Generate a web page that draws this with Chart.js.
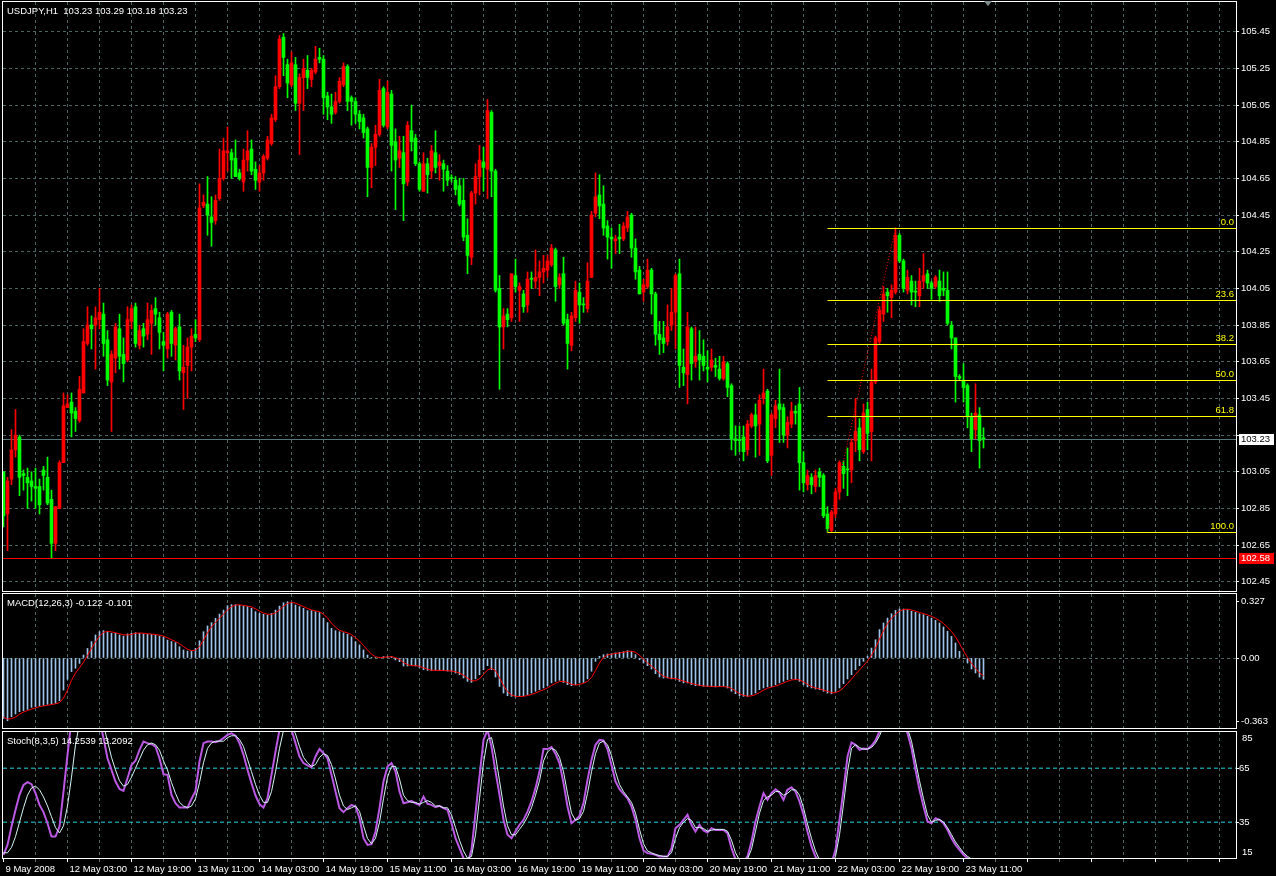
<!DOCTYPE html>
<html>
<head>
<meta charset="utf-8">
<title>USDJPY,H1</title>
<script src="https://cdn.jsdelivr.net/npm/chart.js@4.4.1/dist/chart.umd.min.js"></script>
<style>
  html, body { margin: 0; padding: 0; background: #000; }
  #wrap { position: relative; width: 1276px; height: 876px; background: #000; overflow: hidden; }
  #wrap canvas { position: absolute; left: 0; }
</style>
</head>
<body>
<div id="wrap">
  <canvas id="priceChart" width="1276" height="593" style="top:0px"></canvas>
  <canvas id="macdChart" width="1276" height="138" style="top:592px"></canvas>
  <canvas id="stochChart" width="1276" height="146" style="top:730px"></canvas>
</div>
<script>
// hourly bars, 9 May 2008 .. 23 May 2008 15:00
var open = [
  103.05,102.82,103.01,103.17,103.24,103.04,103.02,103.00,102.97,102.97,
  103.06,103.02,102.90,102.66,102.85,103.10,103.40,103.43,103.38,103.33,
  103.48,103.75,103.85,103.85,103.88,103.91,103.77,103.54,103.67,103.83,
  103.69,103.66,103.87,103.95,103.74,103.83,103.80,103.86,103.94,103.89,
  103.76,103.72,103.92,103.74,103.84,103.59,103.63,103.73,103.80,103.77,
  104.50,104.51,104.44,104.42,104.54,104.65,104.79,104.79,104.76,104.68,
  104.63,104.75,104.81,104.70,104.63,104.68,104.76,104.84,104.97,105.15,
  105.42,105.27,105.16,105.27,105.06,105.20,105.24,105.19,105.23,105.31,
  105.30,105.10,105.04,105.01,105.07,105.16,105.26,105.09,105.07,105.00,
  104.98,104.92,104.71,104.82,104.89,105.14,104.93,105.11,104.85,104.76,
  104.79,104.63,104.91,104.87,104.73,104.58,104.73,104.69,104.79,104.72,
  104.73,104.69,104.65,104.64,104.61,104.53,104.34,104.22,104.57,104.66,
  104.74,104.70,105.01,104.69,104.05,103.84,103.91,103.89,104.12,104.04,
  104.02,103.96,104.10,104.09,104.11,104.14,104.15,104.18,104.26,104.07,
  104.13,103.88,103.74,103.89,104.03,103.96,103.94,104.11,104.46,104.56,
  104.51,104.39,104.33,104.31,104.33,104.32,104.38,104.45,104.27,104.15,
  104.03,104.06,104.15,104.02,103.80,103.78,103.76,103.85,103.92,104.13,
  103.62,103.58,103.83,103.65,103.69,103.68,103.62,103.62,103.63,103.61,
  103.56,103.64,103.52,103.23,103.22,103.24,103.17,103.30,103.36,103.31,
  103.45,103.49,103.14,103.34,103.42,103.40,103.25,103.31,103.38,103.42,
  103.10,102.98,103.02,102.97,103.05,103.03,102.82,102.73,102.82,102.94,
  103.08,103.06,103.06,103.22,103.29,103.16,103.39,103.27,103.54,103.76,
  103.91,104.03,104.00,104.03,104.34,104.20,104.04,104.09,104.03,104.01,
  104.09,104.13,104.08,104.06,104.09,104.05,104.04,103.85,103.78,103.57,
  103.55,103.52,103.35,103.28,103.36,103.23
];
var high = [
  103.05,103.02,103.28,103.39,103.25,103.06,103.07,103.05,103.07,103.01,
  103.08,103.13,102.95,102.86,103.11,103.48,103.47,103.48,103.40,103.57,
  103.83,103.95,103.90,103.95,104.05,103.97,103.82,103.71,103.86,103.91,
  103.78,103.95,103.96,103.97,103.85,103.86,103.97,103.96,104.00,103.92,
  103.81,103.92,103.93,103.84,103.91,103.74,103.78,103.83,103.88,104.62,
  104.56,104.66,104.55,104.56,104.81,104.87,104.93,104.81,104.86,104.70,
  104.81,104.91,104.86,104.74,104.72,104.78,104.88,105.00,105.21,105.43,
  105.44,105.30,105.34,105.31,105.22,105.30,105.32,105.25,105.37,105.36,
  105.32,105.12,105.11,105.12,105.20,105.28,105.27,105.10,105.09,105.02,
  105.00,104.93,104.84,104.94,105.19,105.15,105.18,105.13,104.92,104.88,
  104.88,104.96,105.05,104.89,104.74,104.79,104.76,104.83,104.91,104.78,
  104.75,104.72,104.67,104.66,104.65,104.65,104.43,104.58,104.73,104.83,
  104.82,105.08,105.02,104.70,104.12,103.94,103.94,104.13,104.21,104.08,
  104.04,104.14,104.14,104.26,104.20,104.23,104.23,104.29,104.27,104.13,
  104.22,103.91,103.92,104.09,104.08,104.00,104.19,104.47,104.68,104.67,
  104.61,104.42,104.38,104.34,104.40,104.41,104.47,104.46,104.32,104.17,
  104.10,104.21,104.16,104.03,103.87,103.87,103.96,104.05,104.13,104.21,
  103.72,103.92,103.84,103.84,103.82,103.77,103.71,103.72,103.67,103.68,
  103.68,103.65,103.53,103.30,103.30,103.30,103.33,103.37,103.42,103.47,
  103.61,103.50,103.37,103.44,103.61,103.42,103.35,103.43,103.41,103.51,
  103.16,103.06,103.04,103.06,103.07,103.04,102.86,102.84,102.96,103.11,
  103.11,103.18,103.23,103.45,103.34,103.42,103.43,103.61,103.79,103.95,
  104.06,104.05,104.07,104.38,104.35,104.21,104.15,104.12,104.09,104.16,
  104.24,104.15,104.09,104.12,104.15,104.14,104.14,103.87,103.78,103.58,
  103.64,103.53,103.37,103.53,103.40,103.29
];
var low = [
  102.75,102.62,102.98,103.13,102.92,102.95,102.85,102.89,102.85,102.82,
  102.95,102.87,102.58,102.62,102.85,103.10,103.40,103.24,103.27,103.32,
  103.48,103.74,103.72,103.61,103.83,103.68,103.52,103.27,103.59,103.61,
  103.54,103.65,103.83,103.73,103.72,103.73,103.77,103.69,103.85,103.72,
  103.60,103.67,103.68,103.66,103.55,103.39,103.45,103.60,103.76,103.76,
  104.49,104.34,104.28,104.40,104.53,104.64,104.69,104.65,104.66,104.64,
  104.58,104.69,104.67,104.59,104.58,104.64,104.75,104.83,104.96,105.14,
  105.21,105.09,105.15,105.02,104.78,105.02,105.14,105.15,105.22,105.28,
  105.00,104.97,104.95,105.00,105.06,105.15,105.02,104.94,104.95,104.92,
  104.87,104.55,104.60,104.72,104.88,104.93,104.92,104.69,104.48,104.71,
  104.42,104.61,104.80,104.72,104.58,104.58,104.57,104.65,104.68,104.64,
  104.58,104.61,104.63,104.56,104.50,104.31,104.13,104.18,104.51,104.56,
  104.58,104.54,104.55,104.03,103.50,103.72,103.84,103.87,104.03,103.87,
  103.92,103.92,104.05,104.05,104.01,104.08,104.11,104.17,103.98,104.05,
  103.85,103.61,103.71,103.87,103.86,103.92,103.92,104.11,104.44,104.43,
  104.34,104.21,104.16,104.24,104.24,104.31,104.36,104.22,104.10,104.02,
  103.98,104.05,103.91,103.74,103.69,103.70,103.74,103.82,103.72,103.51,
  103.52,103.42,103.55,103.62,103.55,103.60,103.54,103.60,103.57,103.55,
  103.55,103.46,103.17,103.14,103.16,103.11,103.14,103.29,103.13,103.14,
  103.42,103.10,103.03,103.29,103.21,103.21,103.18,103.29,103.31,102.95,
  102.94,102.95,102.93,102.94,102.97,102.80,102.72,102.72,102.80,102.90,
  102.96,102.92,102.99,103.16,103.11,103.15,103.17,103.11,103.53,103.75,
  103.87,103.92,103.89,104.02,104.19,104.03,104.02,103.96,103.95,103.95,
  104.05,104.05,103.99,104.05,103.98,104.01,103.85,103.72,103.43,103.55,
  103.43,103.29,103.16,103.23,103.07,103.18
];
var close = [
  102.81,103.00,103.17,103.25,103.02,103.03,102.99,102.97,102.96,102.87,
  103.03,102.88,102.66,102.86,103.10,103.41,103.42,103.37,103.34,103.50,
  103.76,103.85,103.83,103.89,103.92,103.75,103.55,103.69,103.84,103.68,
  103.64,103.88,103.94,103.75,103.82,103.79,103.88,103.93,103.91,103.81,
  103.74,103.91,103.75,103.83,103.60,103.62,103.73,103.79,103.78,104.49,
  104.52,104.45,104.41,104.53,104.65,104.80,104.80,104.75,104.66,104.65,
  104.75,104.80,104.69,104.64,104.68,104.77,104.86,104.98,105.15,105.41,
  105.31,105.17,105.28,105.06,105.20,105.25,105.20,105.24,105.30,105.30,
  105.09,105.04,105.00,105.07,105.18,105.26,105.07,105.07,105.00,104.96,
  104.90,104.71,104.82,104.89,105.13,104.94,105.12,104.83,104.75,104.80,
  104.62,104.94,104.85,104.73,104.59,104.73,104.67,104.80,104.71,104.74,
  104.70,104.64,104.65,104.59,104.51,104.33,104.23,104.57,104.66,104.75,
  104.71,105.02,104.69,104.04,103.84,103.90,103.88,104.13,104.06,104.06,
  103.95,104.10,104.10,104.11,104.14,104.16,104.20,104.27,104.06,104.11,
  103.86,103.75,103.90,104.04,103.96,103.96,104.09,104.45,104.55,104.50,
  104.38,104.33,104.32,104.32,104.32,104.39,104.44,104.27,104.14,104.02,
  104.07,104.15,104.02,103.80,103.77,103.75,103.84,103.92,104.12,103.63,
  103.59,103.84,103.64,103.68,103.66,103.63,103.61,103.66,103.62,103.56,
  103.65,103.51,103.23,103.22,103.22,103.16,103.31,103.36,103.30,103.44,
  103.48,103.11,103.36,103.41,103.39,103.25,103.32,103.38,103.37,103.10,
  102.99,103.03,102.98,103.03,103.02,102.81,102.74,102.83,102.94,103.10,
  103.04,103.06,103.21,103.27,103.17,103.37,103.26,103.54,103.78,103.93,
  104.02,104.01,104.04,104.34,104.20,104.05,104.11,104.03,104.03,104.09,
  104.12,104.08,104.05,104.11,104.01,104.04,103.86,103.78,103.57,103.56,
  103.51,103.35,103.23,103.37,103.22,103.23
];

var macdMain = [
  -0.346,-0.360,-0.337,-0.321,-0.308,-0.302,-0.295,-0.283,-0.279,-0.275,
  -0.272,-0.266,-0.264,-0.260,-0.245,-0.184,-0.122,-0.078,-0.059,-0.031,
  0.017,0.055,0.094,0.132,0.151,0.157,0.151,0.142,0.142,0.132,
  0.126,0.138,0.142,0.145,0.142,0.138,0.136,0.136,0.132,0.126,
  0.119,0.103,0.094,0.088,0.065,0.046,0.040,0.040,0.055,0.099,
  0.151,0.184,0.203,0.228,0.252,0.275,0.300,0.306,0.306,0.302,
  0.298,0.295,0.285,0.266,0.256,0.251,0.247,0.256,0.275,0.298,
  0.317,0.323,0.317,0.304,0.295,0.285,0.272,0.272,0.266,0.260,
  0.228,0.203,0.170,0.157,0.151,0.145,0.136,0.122,0.094,0.075,
  0.046,0.017,0.002,0.002,0.002,0.008,0.008,0.008,-0.011,-0.021,
  -0.046,-0.046,-0.040,-0.046,-0.054,-0.067,-0.071,-0.071,-0.071,-0.071,
  -0.073,-0.075,-0.076,-0.086,-0.096,-0.115,-0.134,-0.140,-0.120,-0.096,
  -0.067,-0.044,-0.067,-0.109,-0.163,-0.201,-0.216,-0.220,-0.224,-0.220,
  -0.216,-0.210,-0.201,-0.191,-0.182,-0.172,-0.159,-0.143,-0.134,-0.128,
  -0.140,-0.153,-0.159,-0.153,-0.143,-0.140,-0.120,-0.076,-0.019,0.010,
  0.019,0.023,0.025,0.029,0.033,0.036,0.042,0.038,0.019,-0.010,
  -0.029,-0.044,-0.063,-0.090,-0.109,-0.115,-0.115,-0.120,-0.120,-0.134,
  -0.143,-0.143,-0.153,-0.159,-0.159,-0.163,-0.163,-0.163,-0.166,-0.163,
  -0.163,-0.172,-0.191,-0.205,-0.216,-0.220,-0.220,-0.210,-0.201,-0.182,
  -0.172,-0.166,-0.163,-0.153,-0.143,-0.134,-0.124,-0.120,-0.124,-0.134,
  -0.153,-0.166,-0.172,-0.178,-0.182,-0.191,-0.201,-0.205,-0.191,-0.172,
  -0.147,-0.120,-0.096,-0.067,-0.044,-0.019,0.010,0.057,0.105,0.163,
  0.201,0.229,0.254,0.273,0.281,0.281,0.277,0.268,0.262,0.254,
  0.249,0.239,0.229,0.216,0.201,0.178,0.153,0.124,0.086,0.038,
  -0.004,-0.029,-0.063,-0.086,-0.109,-0.122
];
var macdSignal = [
  -0.340,-0.350,-0.348,-0.339,-0.322,-0.310,-0.302,-0.293,-0.286,-0.279,
  -0.275,-0.271,-0.267,-0.263,-0.256,-0.230,-0.184,-0.128,-0.086,-0.056,
  -0.024,0.014,0.055,0.094,0.126,0.147,0.153,0.150,0.145,0.139,
  0.133,0.132,0.135,0.142,0.143,0.142,0.139,0.137,0.135,0.131,
  0.126,0.116,0.105,0.095,0.082,0.066,0.050,0.042,0.045,0.065,
  0.102,0.145,0.179,0.205,0.228,0.252,0.276,0.294,0.304,0.305,
  0.302,0.298,0.293,0.282,0.269,0.258,0.251,0.251,0.259,0.276,
  0.297,0.313,0.319,0.315,0.305,0.295,0.284,0.276,0.270,0.266,
  0.251,0.230,0.200,0.177,0.159,0.151,0.144,0.134,0.117,0.097,
  0.072,0.046,0.022,0.007,0.002,0.004,0.006,0.008,0.002,-0.008,
  -0.026,-0.038,-0.044,-0.044,-0.047,-0.056,-0.064,-0.070,-0.071,-0.071,
  -0.072,-0.073,-0.075,-0.079,-0.086,-0.099,-0.115,-0.130,-0.131,-0.119,
  -0.094,-0.069,-0.059,-0.073,-0.113,-0.158,-0.193,-0.212,-0.220,-0.221,
  -0.220,-0.215,-0.209,-0.201,-0.191,-0.182,-0.171,-0.158,-0.145,-0.135,
  -0.134,-0.140,-0.151,-0.155,-0.152,-0.145,-0.134,-0.112,-0.072,-0.028,
  0.003,0.017,0.022,0.026,0.029,0.033,0.037,0.039,0.033,0.016,
  -0.007,-0.028,-0.046,-0.066,-0.087,-0.105,-0.113,-0.117,-0.118,-0.125,
  -0.132,-0.140,-0.146,-0.152,-0.157,-0.160,-0.162,-0.163,-0.164,-0.164,
  -0.164,-0.166,-0.175,-0.189,-0.204,-0.214,-0.219,-0.217,-0.210,-0.198,
  -0.185,-0.173,-0.167,-0.161,-0.153,-0.143,-0.134,-0.126,-0.123,-0.126,
  -0.137,-0.151,-0.164,-0.172,-0.177,-0.184,-0.191,-0.199,-0.199,-0.189,
  -0.170,-0.146,-0.121,-0.094,-0.069,-0.043,-0.018,0.016,0.057,0.108,
  0.156,0.198,0.228,0.252,0.269,0.278,0.280,0.275,0.269,0.261,
  0.255,0.247,0.239,0.228,0.215,0.198,0.177,0.152,0.121,0.083,
  0.041,0.003,-0.031,-0.059,-0.086,-0.101
];

var stochMain = [
  16.8,22.4,32.6,41.8,50.2,55.7,57.2,56.1,51.1,44.6,
  40.6,34.4,27.0,27.0,32.6,52.0,72.4,92,97,98,
  99,97,95,96,92,81.7,70.5,64.1,57.6,53.5,
  52.4,59.4,66.8,69.1,75.2,79.8,78.9,78.3,77.0,70.5,
  61.6,61.3,50.2,45.5,43.1,43.1,43.1,47.9,52.4,68.7,
  78.9,79.8,79.8,79.4,80.2,81.7,83.5,84.4,83.1,78.9,
  72.4,64.1,56.7,49.8,45.0,43.1,48.3,61.3,74.2,86.3,
  92,95,86.3,78.9,71.5,67.8,66.5,65.4,71.5,75.7,
  73.3,70.5,61.3,52.0,42.8,40.6,42.8,44.6,43.7,37.2,
  26.1,22.4,22.8,29.8,42.8,57.6,65.9,67.8,63.1,52.0,
  45.5,46.1,46.8,45.5,44.6,49.2,45.2,44.6,43.3,44.1,
  42.8,41.8,34.4,26.1,20.6,15.0,12.2,19.6,40.0,60.4,
  80.7,86.3,77.0,63.1,50.2,36.3,28.0,26.1,29.8,33.5,
  36.3,40.9,46.5,53.9,63.1,75.6,75.6,76.7,73.0,67.8,
  56.7,43.7,34.4,36.3,38.5,45.6,58.5,69.6,78.0,80.7,
  80.4,75.6,66.8,57.6,53.3,50.7,48.3,43.7,36.3,26.1,
  19.2,17.8,17.4,16.9,15.9,15.9,15.9,20.6,31.7,33.5,
  36.3,39.1,33.5,29.8,33.5,30.4,29.3,31.7,30.7,30.7,
  30.7,28.9,20.6,14.4,12.2,13.1,15.9,24.2,35.4,43.7,
  51.1,47.4,51.1,53.3,51.5,47.4,53.0,54.4,52.0,46.5,
  39.1,29.8,21.5,15.9,12.2,10.4,10.4,12.2,19.6,36.3,
  53.0,71.5,79.3,78.0,75.2,75.9,75.6,77.4,80.4,85.4,
  90,94,95,94,93,90,84.4,76.1,64.1,53.0,
  43.7,35.4,34.4,37.2,36.3,34.4,30.7,26.1,22.4,19.6,
  16.9,15.0,13.7,13.1,13.7,14.2539
];
var stochSignal = [
  18,18,21,27,35,43,50,54,55,53,
  49,44,38,32,29,33,44,60,78,90,
  96,97,96,95,94,89,80,71,64,58,
  55,56,60,65,70,75,78,79,78,75,
  69,64,57,51,46,44,43,44,48,57,
  68,76,79,80,80,80,82,83,83,81,
  77,70,63,56,50,46,46,52,63,76,
  86,90,89,84,77,71,68,66,67,71,
  73,72,67,59,50,44,42,43,44,41,
  33,26,23,26,35,48,60,66,66,59,
  50,47,46,46,45,46,47,46,44,44,
  43,43,39,32,25,19,15,16,28,48,
  68,81,82,72,58,44,33,28,28,31,
  34,38,43,50,58,69,74,76,75,71,
  63,51,40,36,37,41,51,63,73,79,
  80,78,72,63,56,52,49,46,40,31,
  23,19,18,17,16.5,16,16,18,26,32,
  35,37,36,32,32,31.5,30,30.5,31,31,
  31,30,25,18,14,13,14.5,20,30,40,
  47,49,50,52,52,50,51,53,53,50,
  43,34,26,19,14,12,11,11.5,16,28,
  45,63,76,78,76.5,75.5,75.7,76.5,79,83,
  88,92,94,94,93,91,87,80,69,58,
  48,39,35,36,36.5,35,32,28,24,21,
  18,16,14.5,13.6,13.4,13.2092
];

var timeLabels = ['9 May 2008', '12 May 03:00', '12 May 19:00', '13 May 11:00', '14 May 03:00',
  '14 May 19:00', '15 May 11:00', '16 May 03:00', '16 May 19:00', '19 May 11:00', '20 May 03:00',
  '20 May 19:00', '21 May 11:00', '22 May 03:00', '22 May 19:00', '23 May 11:00'];
var priceTicks = [102.45, 102.65, 102.85, 103.05, 103.25, 103.45, 103.65, 103.85,
  104.05, 104.25, 104.45, 104.65, 104.85, 105.05, 105.25, 105.45];
var macdTicks = [-0.363, 0, 0.327];
var stochLevels = [35, 65];
var stochEdges = [15, 85];
var fibLevels = [0, 23.6, 38.2, 50, 61.8, 100];
var fibHigh = 104.38, fibLow = 102.72;
var fibFromBar = 206, fibToBar = 223;
var redLevel = 102.58;

// ---- look ----
var UP = '#ff0000', DOWN = '#00ff00', GRID = '#4b6563';
var X_MIN = -0.125, X_MAX = 308.125;
var last = close.length - 1;
var bars = close.map(function (c, i) { return i; });
var candleColor = bars.map(function (i) { return close[i] > open[i] ? UP : DOWN; });
var gridBars = [];
for (var b = 0; b <= 304; b += 8) gridBars.push(b);
var FONT = '9.5px "Liberation Sans", Arial, sans-serif';

Chart.defaults.font.family = '"Liberation Sans", Arial, sans-serif';
Chart.defaults.font.size = 9.5;
Chart.defaults.color = '#ffffff';
Chart.defaults.animation = false;

// keep the plot area exactly where the layout padding puts it
function noScalePadding(s) {
  s.paddingTop = 0; s.paddingBottom = 0; s.paddingLeft = 0; s.paddingRight = 0;
}

function xAxis(withLabels) {
  return {
    type: 'linear', min: X_MIN, max: X_MAX, bounds: 'data', offset: false,
    grid: {
      offset: false, drawTicks: withLabels, tickLength: 4, lineWidth: 1,
      color: function (c) { return (c.tick && c.tick.value === 0) ? 'rgba(0,0,0,0)' : GRID; },
      tickColor: function (c) { return (c.tick && c.tick.value % 16 === 0) ? '#ffffff' : '#6a6a6a'; }
    },
    border: { display: false, dash: [3, 3] },
    afterBuildTicks: function (s) { s.ticks = gridBars.map(function (v) { return { value: v }; }); },
    ticks: {
      display: withLabels, autoSkip: false, maxRotation: 0, minRotation: 0,
      align: 'start', padding: 2, labelOffset: 2, color: '#ffffff',
      callback: function (v) { return (v % 16 === 0 && timeLabels[v / 16]) ? timeLabels[v / 16] : ''; }
    },
    afterFit: function (s) { s.height = withLabels ? 18 : 0; noScalePadding(s); }
  };
}

var framePlugin = {
  id: 'frame',
  afterDraw: function (chart) {
    var a = chart.chartArea, ctx = chart.ctx;
    ctx.save();
    ctx.strokeStyle = '#ffffff';
    ctx.lineWidth = 1;
    ctx.strokeRect(a.left - 0.5, a.top - 0.5, a.right - a.left + 1, a.bottom - a.top + 1);
    ctx.restore();
  }
};

function panelTitle(chart, text) {
  var ctx = chart.ctx, a = chart.chartArea;
  ctx.save();
  ctx.font = FONT;
  ctx.fillStyle = '#ffffff';
  ctx.textAlign = 'left';
  ctx.textBaseline = 'middle';
  ctx.fillText(text, a.left + 4, a.top + 9);
  ctx.restore();
}

// crisp 1px horizontal line at a price, placed through the y scale
function hLine(chart, value, fromX, color) {
  var ctx = chart.ctx, a = chart.chartArea;
  var y = Math.round(chart.scales.y.getPixelForValue(value)) + 0.5;
  var x0 = fromX === null ? a.left : chart.scales.x.getPixelForValue(fromX);
  ctx.save();
  ctx.strokeStyle = color;
  ctx.lineWidth = 1;
  ctx.beginPath();
  ctx.moveTo(x0, y);
  ctx.lineTo(a.right, y);
  ctx.stroke();
  ctx.restore();
}

// ---- price panel ----
var fibPrice = function (p) { return fibHigh - p / 100 * (fibHigh - fibLow); };
var priceSets = [
  { type: 'bar', data: bars.map(function (i) { return { x: i, y: [low[i], high[i]] }; }),
    backgroundColor: candleColor, barThickness: 1, grouped: false, order: 3 },
  { type: 'bar', data: bars.map(function (i) { return { x: i, y: [open[i], close[i]] }; }),
    backgroundColor: candleColor, barThickness: 3, grouped: false, minBarLength: 1, order: 2 },
  { type: 'line', data: [{ x: fibFromBar, y: fibLow }, { x: fibToBar, y: fibHigh }],
    borderColor: '#ff0000', borderWidth: 1, borderDash: [1, 2], pointRadius: 0, order: 0 }
];

new Chart(document.getElementById('priceChart'), {
  type: 'bar',
  data: { datasets: priceSets },
  options: {
    responsive: false, maintainAspectRatio: false, animation: false, events: [],
    layout: { padding: { left: 3, right: 0, top: 2, bottom: 2 } },
    plugins: { legend: { display: false }, tooltip: { enabled: false } },
    scales: {
      x: xAxis(false),
      y: {
        type: 'linear', position: 'right', min: 102.400, max: 105.612, bounds: 'data',
        grid: { color: GRID, drawTicks: true, tickLength: 3, tickColor: '#ffffff' },
        border: { display: false, dash: [3, 3] },
        afterBuildTicks: function (s) { s.ticks = priceTicks.map(function (v) { return { value: v }; }); },
        ticks: { autoSkip: false, padding: 2, color: '#ffffff',
          // the bid tag hides the grid label right under it
          callback: function (v) { return Math.abs(v - close[last]) < 0.04 ? '' : v.toFixed(2); } },
        afterFit: function (s) { s.width = 40; noScalePadding(s); }
      }
    }
  },
  plugins: [framePlugin, {
    id: 'levels',
    beforeDatasetsDraw: function (chart) {
      hLine(chart, close[last], null, '#56787a');
    },
    afterDatasetsDraw: function (chart) {
      hLine(chart, redLevel, null, '#ff0000');
      fibLevels.forEach(function (p) { hLine(chart, fibPrice(p), fibFromBar, '#ffff00'); });
    }
  }, {
    id: 'priceText',
    afterDraw: function (chart) {
      var ctx = chart.ctx, a = chart.chartArea, ys = chart.scales.y, xs = chart.scales.x;
      panelTitle(chart, 'USDJPY,H1  ' + [open[last], high[last], low[last], close[last]]
        .map(function (v) { return v.toFixed(2); }).join(' '));
      ctx.save();
      ctx.font = FONT;
      ctx.textBaseline = 'middle';
      // fibo level captions
      ctx.fillStyle = '#ffff00';
      ctx.textAlign = 'right';
      fibLevels.forEach(function (p) {
        ctx.fillText(p.toFixed(1), a.right - 2, Math.round(ys.getPixelForValue(fibPrice(p))) - 6);
      });
      // price tags on the axis
      ctx.textAlign = 'left';
      [[close[last], '#ffffff', '#000000'], [redLevel, '#ff0000', '#ffffff']].forEach(function (t) {
        var y = Math.round(ys.getPixelForValue(t[0]));
        ctx.fillStyle = t[1];
        ctx.fillRect(a.right + 3, y - 5, 35, 11);
        ctx.fillStyle = t[2];
        ctx.fillText(t[0].toFixed(2), a.right + 5, y + 0.5);
      });
      // chart shift marker
      var sx = Math.round(xs.getPixelForValue(close.length));
      ctx.fillStyle = '#7f8c8c';
      ctx.beginPath();
      ctx.moveTo(sx - 4, a.top - 1);
      ctx.lineTo(sx + 4, a.top - 1);
      ctx.lineTo(sx, a.top + 4);
      ctx.closePath();
      ctx.fill();
      ctx.restore();
    }
  }]
});

// ---- MACD panel ----
new Chart(document.getElementById('macdChart'), {
  type: 'bar',
  data: {
    datasets: [
      { type: 'bar', data: bars.map(function (i) { return { x: i, y: macdMain[i] }; }),
        backgroundColor: '#9dc4ea', barThickness: 1, grouped: false, order: 2 },
      { type: 'line', data: bars.map(function (i) { return { x: i, y: macdSignal[i] }; }),
        borderColor: '#ff0000', borderWidth: 1, pointRadius: 0, order: 1 }
    ]
  },
  options: {
    responsive: false, maintainAspectRatio: false, animation: false, events: [],
    layout: { padding: { left: 3, right: 0, top: 2, bottom: 2 } },
    plugins: { legend: { display: false }, tooltip: { enabled: false } },
    scales: {
      x: xAxis(false),
      y: {
        type: 'linear', position: 'right', min: -0.4016, max: 0.3672, bounds: 'data',
        grid: {
          color: function (c) { return (c.tick && c.tick.value === 0) ? GRID : 'rgba(0,0,0,0)'; },
          drawTicks: true, tickLength: 3, tickColor: '#ffffff'
        },
        border: { display: false, dash: [3, 3] },
        afterBuildTicks: function (s) { s.ticks = macdTicks.map(function (v) { return { value: v }; }); },
        ticks: { autoSkip: false, padding: 2, color: '#ffffff',
          callback: function (v) { return v === 0 ? '0.00' : v.toFixed(3); } },
        afterFit: function (s) { s.width = 40; noScalePadding(s); }
      }
    }
  },
  plugins: [framePlugin, {
    id: 'macdText',
    afterDraw: function (chart) {
      panelTitle(chart, 'MACD(12,26,3) ' + macdMain[last].toFixed(3) + ' ' + macdSignal[last].toFixed(3));
    }
  }]
});

// ---- Stochastic panel ----
var stochSets = stochLevels.map(function (v) {
  return { type: 'line', data: [{ x: X_MIN, y: v }, { x: X_MAX, y: v }], borderColor: '#22d6e0',
    borderWidth: 1, borderDash: [4, 3], pointRadius: 0, order: 3 };
});
stochSets.push({ type: 'line', data: bars.map(function (i) { return { x: i, y: stochMain[i] }; }),
  borderColor: '#bb58e4', borderWidth: 2, pointRadius: 0, clip: 0, order: 2 });
stochSets.push({ type: 'line', data: bars.map(function (i) { return { x: i, y: stochSignal[i] }; }),
  borderColor: '#d4f6f4', borderWidth: 1, pointRadius: 0, clip: 0, order: 1 });

new Chart(document.getElementById('stochChart'), {
  type: 'line',
  data: { datasets: stochSets },
  options: {
    responsive: false, maintainAspectRatio: false, animation: false, events: [],
    layout: { padding: { left: 3, right: 0, top: 2, bottom: 0 } },
    plugins: { legend: { display: false }, tooltip: { enabled: false } },
    scales: {
      x: xAxis(true),
      y: {
        type: 'linear', position: 'right', min: 15.1, max: 85.1, bounds: 'data',
        grid: { color: 'rgba(0,0,0,0)', drawTicks: true, tickLength: 3, tickColor: '#ffffff' },
        border: { display: false },
        afterBuildTicks: function (s) { s.ticks = stochLevels.map(function (v) { return { value: v }; }); },
        ticks: { autoSkip: false, padding: 0, color: '#ffffff', callback: function (v) { return String(v); } },
        afterFit: function (s) { s.width = 40; noScalePadding(s); }
      }
    }
  },
  plugins: [framePlugin, {
    id: 'stochText',
    afterDraw: function (chart) {
      var ctx = chart.ctx, a = chart.chartArea;
      panelTitle(chart, 'Stoch(8,3,5) ' + stochMain[last].toFixed(4) + ' ' + stochSignal[last].toFixed(4));
      ctx.save();
      ctx.font = FONT;
      ctx.fillStyle = '#ffffff';
      ctx.textAlign = 'left';
      ctx.textBaseline = 'middle';
      ctx.fillText(String(stochEdges[1]), a.right + 6, a.top + 6);
      ctx.fillText(String(stochEdges[0]), a.right + 6, a.bottom - 6);
      ctx.restore();
    }
  }]
});
</script>
</body>
</html>
